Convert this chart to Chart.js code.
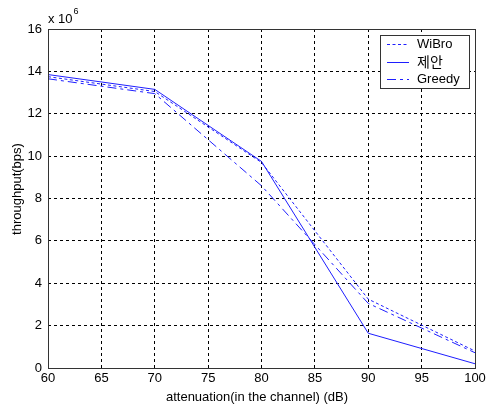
<!DOCTYPE html>
<html>
<head>
<meta charset="utf-8">
<script src="https://cdn.jsdelivr.net/npm/chart.js@4/dist/chart.umd.min.js"></script>
<style>
html,body{margin:0;padding:0;background:#fff;}
#wrap{width:490px;height:407px;}
</style>
</head>
<body>
<div id="wrap"><canvas id="c" width="490" height="407"></canvas></div>
<script>
// Data (throughput in units of 10^6 bps)
const attenuation = [60, 70, 80, 90, 100];
const wibro    = [13.75, 13.05, 9.7, 3.25, 0.8];
const proposed = [13.85, 13.15, 9.75, 1.64, 0.2];
const greedy   = [13.65, 12.95, 8.6, 3.05, 0.72];
const seriesNames = ['WiBro', '제안', 'Greedy'];
const xTicks = [60, 65, 70, 75, 80, 85, 90, 95, 100];
const yTicks = [0, 2, 4, 6, 8, 10, 12, 14, 16];
const xTitle = 'attenuation(in the channel) (dB)';
const yTitle = 'throughput(bps)';
const yExponent = '6';

const FONT = 'Arial, "Liberation Sans", sans-serif';
const BLUE = 'rgb(30,30,255)';

function pts(ys){ return attenuation.map((x,i)=>({x:x, y:ys[i]})); }

const dashes = [[3,2.5], [], [9,4,3,4]];

const extras = {
  id: 'extras',
  afterDraw(chart){
    const ctx = chart.ctx, a = chart.chartArea;
    ctx.save();
    // axes box
    ctx.strokeStyle = '#333';
    ctx.lineWidth = 1;
    ctx.setLineDash([]);
    ctx.strokeRect(Math.round(a.left)+0.5, Math.round(a.top)+0.5,
                   Math.round(a.right-a.left)-1+1, Math.round(a.bottom-a.top)-1+1);
    // exponent label
    ctx.fillStyle = '#000';
    ctx.font = '13px ' + FONT;
    ctx.textBaseline = 'alphabetic';
    ctx.textAlign = 'left';
    ctx.fillText('x 10', a.left, a.top - 6);
    const w = ctx.measureText('x 10').width;
    ctx.font = '9px ' + FONT;
    ctx.fillText(yExponent, a.left + w + 1, a.top - 15);
    // axis titles
    ctx.font = '13px ' + FONT;
    ctx.textAlign = 'center';
    ctx.textBaseline = 'middle';
    ctx.fillText(xTitle, 257, 397);
    ctx.save();
    ctx.translate(17, 189);
    ctx.rotate(-Math.PI/2);
    ctx.fillText(yTitle, 0, 0);
    ctx.restore();
    // legend
    const lx = 380, ly = 35, lw = 89, lh = 53;
    ctx.fillStyle = '#fff';
    ctx.fillRect(lx, ly, lw, lh);
    ctx.strokeStyle = '#333';
    ctx.strokeRect(lx+0.5, ly+0.5, lw, lh);
    const rows = [44, 62, 79];
    chart.data.datasets.forEach((ds, i) => {
      ctx.strokeStyle = ds.borderColor;
      ctx.lineWidth = 1;
      ctx.setLineDash(ds.borderDash || []);
      ctx.beginPath();
      ctx.moveTo(387, rows[i] + 0.5);
      ctx.lineTo(409, rows[i] + 0.5);
      ctx.stroke();
      ctx.setLineDash([]);
      ctx.fillStyle = '#000';
      ctx.textAlign = 'left';
      ctx.textBaseline = 'middle';
      ctx.font = (i === 1 ? '14px "Noto Sans CJK KR", ' : '13px ') + FONT;
      ctx.fillText(ds.label, 417, rows[i] + (i === 1 ? 0 : 0.5));
    });
    ctx.restore();
  }
};

new Chart(document.getElementById('c'), {
  type: 'line',
  data: {
    datasets: [wibro, proposed, greedy].map((ys, i) => ({
      label: seriesNames[i],
      data: pts(ys),
      borderColor: BLUE,
      backgroundColor: BLUE,
      borderWidth: 1,
      borderDash: dashes[i],
      pointRadius: 0,
      tension: 0,
      fill: false
    }))
  },
  options: {
    responsive: false,
    animation: false,
    devicePixelRatio: 1,
    layout: { padding: { top: 29, right: 15, left: 0, bottom: 0 } },
    plugins: { legend: { display: false }, tooltip: { enabled: false } },
    scales: {
      x: {
        type: 'linear', min: 60, max: 100,
        afterBuildTicks: s => { s.ticks = xTicks.map(v => ({value: v})); },
        afterFit: s => { s.height = 39; },
        ticks: { color: '#000', font: { family: FONT, size: 13 }, padding: 3, maxRotation: 0, autoSkip: false },
        grid: { color: '#000', lineWidth: 1, drawTicks: false },
        border: { display: false, dash: [3,3] },
        title: { display: false }
      },
      y: {
        type: 'linear', min: 0, max: 16,
        afterBuildTicks: s => { s.ticks = yTicks.map(v => ({value: v})); },
        afterFit: s => { s.width = 48; },
        ticks: { color: '#000', font: { family: FONT, size: 13 }, padding: 6, autoSkip: false },
        grid: { color: '#000', lineWidth: 1, drawTicks: false },
        border: { display: false, dash: [3,3] },
        title: { display: false }
      }
    }
  },
  plugins: [extras]
});
</script>
</body>
</html>
